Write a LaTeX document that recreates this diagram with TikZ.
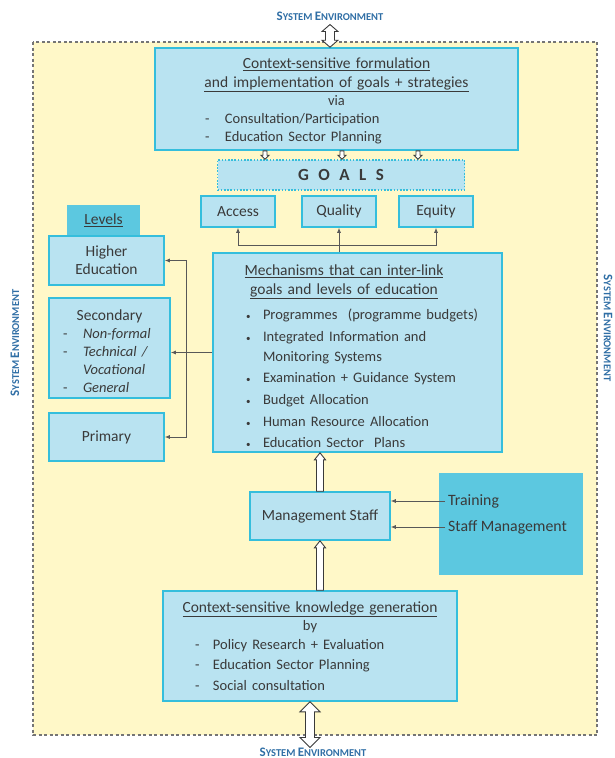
\documentclass[tikz,border=0pt]{standalone}
\usepackage{fontspec}
\setmainfont{Carlito}
\usetikzlibrary{arrows.meta,calc}

\definecolor{boxblue}{HTML}{B9E3F1}
\definecolor{boxedge}{HTML}{35BEDC}
\definecolor{tabblue}{HTML}{5CC8E0}
\definecolor{paper}{HTML}{FFF8C8}
\definecolor{envblue}{HTML}{2F6EA5}
\definecolor{ink}{HTML}{3A3A3A}

\newcommand{\envlabel}{{\fontsize{13}{14}\selectfont S}{\fontsize{10.5}{12}\selectfont YSTEM}
  {\fontsize{13}{14}\selectfont E}{\fontsize{10.5}{12}\selectfont NVIRONMENT}}
\newcommand{\itemfont}{\fontsize{14.5}{18}\selectfont}
\newcommand{\ctrline}[2][\hsize]{\makebox[\hsize][l]{\makebox[#1][c]{#2}}}
\newcommand{\rowline}[4]{\makebox[\hsize][l]{\itemfont\hspace*{#1}\makebox[#2][l]{#3}#4}}
\newcommand{\dotmark}{{\fontsize{9}{9}\selectfont\textbullet}}
% hollow arrow from #1 to #2: shaft half width, head half width, head length
\newcommand{\hollowarrow}[5]{%
  \draw[hollow] let \p1=#1, \p2=#2, \p3=($(\p2)!#5!(\p1)$) in
    (\x1-#3,\y1) -- (\x1-#3,\y3) -- (\x1-#4,\y3) -- (\x1,\y2)
    -- (\x1+#4,\y3) -- (\x1+#3,\y3) -- (\x1+#3,\y1) -- cycle;}
\newcommand{\hollowboth}[5]{%
  \draw[hollow] let \p1=#1, \p2=#2, \p3=($(\p2)!#5!(\p1)$), \p4=($(\p1)!#5!(\p2)$) in
    (\x1,\y1) -- (\x1-#4,\y4) -- (\x1-#3,\y4) -- (\x1-#3,\y3) -- (\x1-#4,\y3) -- (\x1,\y2)
    -- (\x1+#4,\y3) -- (\x1+#3,\y3) -- (\x1+#3,\y4) -- (\x1+#4,\y4) -- cycle;}

\begin{document}
\begin{tikzpicture}[x=1pt, y=-1pt, text=ink,
  font=\fontsize{15.5}{18}\selectfont,
  box/.style={draw=boxedge, line width=1.6pt, fill=boxblue, inner sep=0pt, align=left},
  link/.style={draw=ink!85, line width=0.8pt, -{Latex[length=5pt,width=4pt]}},
  hollow/.style={draw=ink, fill=white, line width=0.9pt, line join=miter},
  envtext/.style={text=envblue, font=\bfseries, inner sep=0pt}]

  \useasboundingbox (0,0) rectangle (615,758);

  % system boundary
  \fill[paper] (33,42) rectangle (597,735);
  \draw[ink!70, line width=1.2pt, dash pattern=on 3pt off 2.5pt] (33,42) rectangle (597,735);

  \node[envtext] (envtop) at (330,16) {\envlabel};
  \node[envtext] (envbot) at (313,752) {\envlabel};
  \node[envtext, rotate=90] (envleft) at (15,343) {\envlabel};
  \node[envtext, rotate=-90] (envright) at (608,328) {\envlabel};

  % goals and strategies
  \node[box, minimum width=363pt, minimum height=102pt, text width=363pt] (plan) at (336.5,99) {
    \ctrline{\rule{0pt}{14pt}\underline{Context-sensitive formulation}}\\[1pt]
    \ctrline{\underline{and implementation of goals + strategies}}\\
    \ctrline{\itemfont via}\\
    \rowline{50pt}{20pt}{-}{Consultation/Participation}\\
    \rowline{50pt}{20pt}{-}{Education Sector Planning}};

  \node[box, dash pattern=on 1.6pt off 1.6pt, minimum width=247pt, minimum height=30pt,
    font=\fontsize{17}{20}\selectfont\bfseries] (goals) at (341,175)
    {G\hspace{9.5pt}O\hspace{9.5pt}A\hspace{9.5pt}L\hspace{9.5pt}S};

  \node[box, minimum width=74pt, minimum height=31pt] (access) at (238,211.5) {Access};
  \node[box, minimum width=74pt, minimum height=31pt] (quality) at (339,211.5) {Quality};
  \node[box, minimum width=74pt, minimum height=31pt] (equity) at (436,211.5) {Equity};

  % levels
  \node[fill=tabblue, minimum width=73pt, minimum height=30pt, inner sep=0pt] (levels) at (103.5,220) {\underline{Levels}};
  \node[box, align=center, minimum width=115pt, minimum height=49pt] (higher) at (106.5,260.5) {Higher\\Education};
  \node[box, minimum width=121pt, minimum height=100pt, text width=121pt] (secondary) at (109.5,348) {
    \ctrline{\rule{0pt}{17pt}Secondary}\\
    \rowline{14pt}{20pt}{-}{\textit{Non-formal}}\\
    \rowline{14pt}{20pt}{-}{\textit{Technical /}}\\
    \rowline{14pt}{20pt}{}{\textit{Vocational}}\\
    \rowline{14pt}{20pt}{-}{\textit{General}}};
  \node[box, minimum width=115pt, minimum height=48pt] (primary) at (106.5,437) {Primary};

  % mechanisms
  \node[box, minimum width=289pt, minimum height=199pt, text width=289pt] (mech) at (357.5,352.5) {
    \ctrline[262pt]{\rule{0pt}{18pt}\underline{Mechanisms that can inter-link}}\\[1pt]
    \ctrline[262pt]{\underline{goals and levels of education}}\\[7pt]
    \rowline{33pt}{17pt}{\dotmark}{Programmes\ \ (programme budgets)}\\[4pt]
    \rowline{33pt}{17pt}{\dotmark}{Integrated Information and}\\[2pt]
    \rowline{33pt}{17pt}{}{Monitoring Systems}\\[3pt]
    \rowline{33pt}{17pt}{\dotmark}{Examination + Guidance System}\\[4pt]
    \rowline{33pt}{17pt}{\dotmark}{Budget Allocation}\\[4pt]
    \rowline{33pt}{17pt}{\dotmark}{Human Resource Allocation}\\[3pt]
    \rowline{33pt}{17pt}{\dotmark}{Education Sector\ \ Plans}};

  % staff
  \node[box, minimum width=140pt, minimum height=48pt] (mgmt) at (320,516) {Management Staff};
  \fill[tabblue] (439,473) rectangle (583,575);
  \node[anchor=west, inner sep=0pt, font=\fontsize{15.8}{18}\selectfont] (training) at (448,501) {Training};
  \node[anchor=west, inner sep=0pt, font=\fontsize{15.8}{18}\selectfont] (staffmgmt) at (448,527) {Staff Management};

  % knowledge
  \node[box, minimum width=294pt, minimum height=110pt, text width=294pt] (know) at (310,646) {
    \ctrline{\underline{Context-sensitive knowledge generation}}\\
    \ctrline{\itemfont by}\\[1pt]
    \rowline{32pt}{18pt}{-}{Policy Research + Evaluation}\\[2pt]
    \rowline{32pt}{18pt}{-}{Education Sector Planning}\\[3pt]
    \rowline{32pt}{18pt}{-}{Social consultation}};

  % connectors
  \coordinate (gj) at (339,245);
  \coordinate (lj) at (186,352.5);
  \draw[link] (mech.north -| quality) -- (quality.south);
  \draw[link] (gj) -| (access.south);
  \draw[link] (gj) -| (equity.south);
  \draw[link] (mech.west) -- (secondary.east |- mech.west);
  \draw[link] (lj) |- (higher.east);
  \draw[link] (lj) |- (primary.east);
  \draw[link] ([xshift=-3pt]training.west) -- (training.west -| mgmt.east);
  \draw[link] ([xshift=-3pt]staffmgmt.west) -- (staffmgmt.west -| mgmt.east);

  \hollowboth{(envtop |- plan.north)}{([yshift=-4pt]envtop.south)}{4.5pt}{8pt}{7pt}
  \foreach \gx in {265,342,418}{
    \hollowarrow{(plan.south -| \gx,0)}{(goals.north -| \gx,0)}{2pt}{4pt}{4pt}
  }
  \hollowarrow{(mgmt.north)}{(mgmt.north |- mech.south)}{3.5pt}{5.5pt}{7pt}
  \hollowarrow{(know.north -| mgmt)}{(mgmt.south)}{3.5pt}{5.5pt}{7pt}
  \hollowboth{(envbot.north -| know.south)}{(know.south)}{4.5pt}{10pt}{10pt}
\end{tikzpicture}
\end{document}
